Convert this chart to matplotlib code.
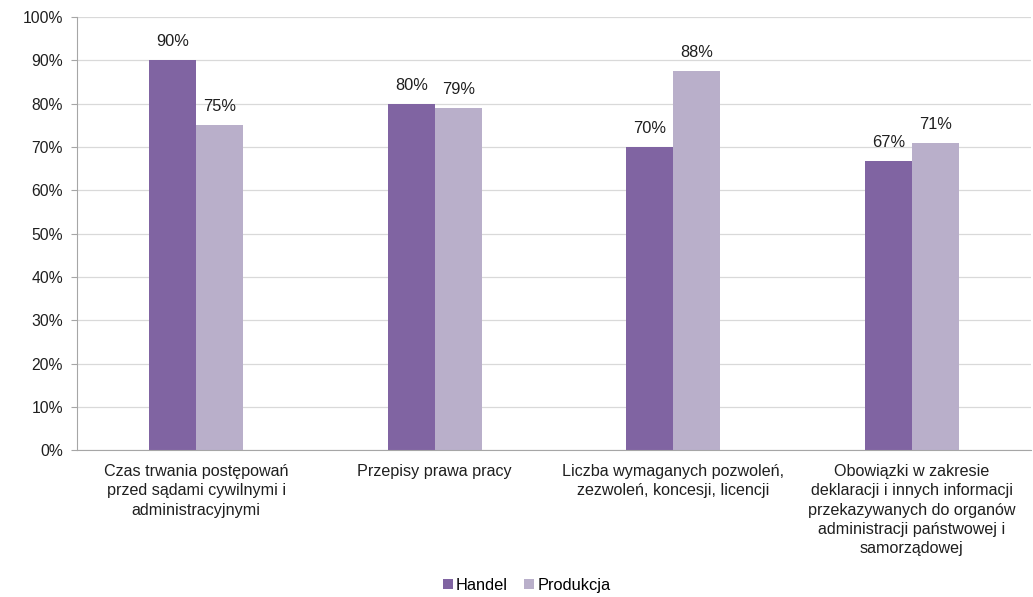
import matplotlib.pyplot as plt
import numpy as np
from matplotlib.ticker import PercentFormatter

plt.rcParams['font.family'] = ['Liberation Sans', 'DejaVu Sans']

categories = [
    "Czas trwania postępowań\nprzed sądami cywilnymi i\nadministracyjnymi",
    "Przepisy prawa pracy",
    "Liczba wymaganych pozwoleń,\nzezwoleń, koncesji, licencji",
    "Obowiązki w zakresie\ndeklaracji i innych informacji\nprzekazywanych do organów\nadministracji państwowej i\nsamorządowej",
]
handel = [0.90, 0.80, 0.70, 0.667]
produkcja = [0.75, 0.79, 0.875, 0.71]
series_names = ["Handel", "Produkcja"]
colors = ["#8064A2", "#B9AFCA"]

txt = "#1F1F1F"

fig = plt.figure(figsize=(10.33, 5.97), dpi=100)
ax = fig.add_axes([0.0745, 0.246, 0.9235, 0.7255])

x = np.arange(len(categories))
w = 0.197
bars1 = ax.bar(x - w / 2, handel, w, color=colors[0], label=series_names[0])
bars2 = ax.bar(x + w / 2, produkcja, w, color=colors[1], label=series_names[1])

# value labels above each bar
for bars, vals in [(bars1, handel), (bars2, produkcja)]:
    for b, v in zip(bars, vals):
        ax.text(b.get_x() + b.get_width() / 2, v + 0.025, f"{v*100:.0f}%",
                ha="center", va="bottom", fontsize=11.8, color=txt)

ax.set_xlim(-0.5, len(categories) - 0.5)
ax.set_ylim(0, 1.0)
ax.set_yticks(np.arange(0, 1.01, 0.1))
ax.yaxis.set_major_formatter(PercentFormatter(1.0, decimals=0))
ax.grid(axis="y", color="#D9D9D9", linewidth=0.9)
ax.set_axisbelow(True)

ax.set_xticks(x)
ax.set_xticklabels(categories, fontsize=11.6, color=txt, linespacing=1.36, va="top")
ax.tick_params(axis="x", length=0, pad=10)
ax.tick_params(axis="y", labelsize=11.3, labelcolor=txt, length=4, color="#A6A6A6", pad=6)

for s in ["top", "right"]:
    ax.spines[s].set_visible(False)
ax.spines["left"].set_color("#A6A6A6")
ax.spines["bottom"].set_color("#A6A6A6")

fig.legend(loc="lower center", bbox_to_anchor=(0.51, -0.018), ncol=2, frameon=False,
           fontsize=11.8, handlelength=0.6, handleheight=0.6, handletextpad=0.2,
           columnspacing=1.0)

fig.savefig("out.png", dpi=100)
